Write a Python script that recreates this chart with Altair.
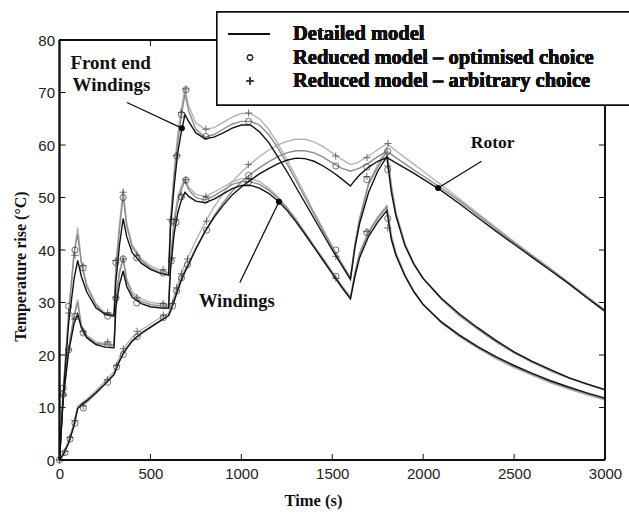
import altair as alt
import pandas as pd

# ---------------- data ----------------
T = [0, 20, 50, 80, 100, 120, 150, 200, 250, 300,
     310, 330, 350, 370, 400, 450, 500, 550, 600,
     610, 630, 650, 670, 690, 710, 750, 800, 850, 900, 950, 1000, 1050,
     1100, 1150, 1200, 1250, 1300, 1350, 1400, 1450, 1500, 1550, 1600,
     1625, 1650, 1700, 1750, 1800,
     1825, 1850, 1900, 1950, 2000,
     2100, 2200, 2300, 2400, 2500, 2600, 2700, 2800, 2900, 3000]

FEW_DET = [0, 12, 26, 34.5, 38, 35, 32, 29, 27.8, 27.5,
           34, 41, 46, 42.5, 39.5, 37.5, 36.3, 35.6, 35.2,
           44, 52, 58.5, 62.5, 65.8, 64.5, 62.3, 61.2, 61.5, 62.3, 63.2, 63.8, 63.8,
           62.5, 60.5, 57.8, 55, 52, 49, 46, 43, 40, 37.2, 34.4,
           40.5, 45, 51, 55, 57.8,
           51, 46.5, 40.8, 37.2, 34.6,
           30.8, 27.8, 25.2, 22.8, 20.6, 18.8, 17.2, 15.7, 14.5, 13.4]
FEW_OPT = [0, 13, 28, 39.5, 43, 37.5, 33, 29.5, 27.6, 27.3,
           36.5, 44, 50.3, 44.5, 40.5, 38, 36.6, 35.8, 35.3,
           45, 54, 60.5, 65.5, 69.8, 66.5, 63, 61.5, 62, 63, 64, 64.5, 64.5,
           63.8, 62, 59.5, 56.5, 53.3, 50, 46.8, 43.6, 40.4, 37.4, 34.6,
           41, 45.8, 52.5, 55.8, 58.8,
           52, 47, 41, 37.3, 34.5,
           30.6, 27.5, 24.9, 22.5, 20.4, 18.6, 17, 15.6, 14.4, 13.3]
FEW_ARB = [0, 12.5, 27.5, 39, 44.3, 37.8, 33.4, 29.8, 28, 27.8,
           37, 45, 51.5, 45, 41, 38.3, 37, 36.2, 35.7,
           45.5, 55, 62, 67, 70.8, 67.5, 64.2, 63, 63.3, 64.3, 65.3, 66, 66,
           65, 63, 60.3, 57.3, 54, 50.6, 47.2, 44, 40.8, 37.7, 34.8,
           41.2, 46, 52.8, 56.3, 59.5,
           52.5, 47.3, 41.2, 37.4, 34.6,
           30.7, 27.6, 25, 22.6, 20.5, 18.7, 17.1, 15.7, 14.5, 13.4]

W_DET = [0, 11.5, 20.5, 26, 27.8, 25.2, 23.3, 22, 21.5, 21.4,
         29, 33.5, 36, 33, 31, 29.8, 29.2, 29, 28.9,
         36, 43, 47, 49.5, 51, 50.2, 49.3, 49, 49.7, 50.7, 51.7, 52.3, 52.3,
         51.8, 50.8, 49.4, 47.6, 45.4, 43, 40.5, 38, 35.5, 33, 30.7,
         35, 38.5, 42.6, 45.3, 47.5,
         42, 39, 35, 32, 29.6,
         26.3, 23.8, 21.6, 19.7, 18, 16.5, 15.1, 13.9, 12.8, 11.8]
W_OPT = [0, 12.2, 21.5, 27.3, 30, 25.5, 23.5, 22.2, 22, 21.8,
         30.5, 35.5, 38.3, 34, 31.5, 30.2, 29.6, 29.4, 29.3,
         37.5, 45, 49, 51.5, 53.2, 51.5, 50, 49.5, 50.3, 51.4, 52.5, 53, 53,
         52.5, 51.4, 49.9, 48, 45.7, 43.2, 40.7, 38.2, 35.7, 33.2, 30.9,
         35.6, 39.2, 43.3, 46, 48.2,
         42.5, 39.3, 35.2, 32, 29.6,
         26.2, 23.6, 21.4, 19.5, 17.8, 16.3, 14.9, 13.7, 12.6, 11.6]
W_ARB = [0, 12, 21, 27.5, 30.6, 25.8, 23.8, 22.5, 22.2, 22,
         31, 36, 38.6, 34.5, 32, 30.7, 30, 29.8, 29.6,
         38, 45.8, 50, 52.2, 53.5, 52, 50.6, 50.2, 51, 52, 53, 53.6, 53.6,
         53, 51.8, 50.2, 48.2, 45.9, 43.4, 40.9, 38.4, 35.9, 33.4, 31,
         35.8, 39.5, 43.6, 46.3, 48.5,
         42.8, 39.5, 35.3, 32.1, 29.6,
         26.1, 23.5, 21.3, 19.3, 17.6, 16.1, 14.7, 13.5, 12.4, 11.4]

R_DET = [0, 1, 3.2, 6.5, 9.8, 10.5, 11.3, 12.8, 14.5, 16.3,
         17.2, 18.8, 20.2, 21.3, 22.7, 24.2, 25.3, 26.4, 27.5,
         28.3, 30.2, 32.3, 34.2, 35.8, 37.2, 40.2, 43.5, 46.2, 48.5, 50.5, 52, 53.3,
         54.5, 55.5, 56.4, 57.1, 57.5, 57.4, 56.9, 56, 54.9, 53.6, 52.2,
         53.3, 54.3, 55.8, 56.9, 57.6,
         57.1, 56.6, 55.6, 54.6, 53.5,
         51.3, 48.8, 46.2, 43.6, 41.1, 38.6, 36.1, 33.6, 30.9, 28.3]
R_OPT = [0, 1, 3.4, 6.8, 9.9, 10.3, 11, 12.6, 14.4, 16.2,
         17.3, 19, 20.2, 21.2, 22.6, 24, 25.2, 26.4, 27.5,
         28.5, 30.6, 32.7, 34.6, 36.2, 37.6, 40.3, 43.5, 46.5, 49, 51.2, 53, 54.4,
         55.7, 56.8, 57.8, 58.5, 58.9, 58.9, 58.5, 57.7, 56.6, 55.6, 55,
         55.3, 55.6, 56.6, 57.8, 58.8,
         58.2, 57.6, 56.4, 55.2, 54.1,
         51.8, 49.3, 46.7, 44, 41.4, 38.9, 36.4, 33.8, 31.2, 28.6]
R_ARB = [0, 1.2, 3.6, 7.2, 10.3, 10.8, 11.6, 13.2, 15, 16.8,
         17.8, 19.6, 21, 22, 23.4, 24.8, 25.9, 27, 28,
         29, 31.2, 33.5, 35.6, 37.3, 38.8, 41.8, 45.2, 48.2, 50.8, 53, 54.8, 56.4,
         57.8, 59, 60, 60.7, 61.1, 61.1, 60.6, 59.7, 58.5, 57.3, 56.3,
         56.5, 56.9, 57.9, 59.1, 60.2,
         59.6, 58.9, 57.6, 56.3, 55,
         52.4, 49.7, 47, 44.3, 41.6, 39, 36.4, 33.7, 31, 28.4]

# marker samples (optimised = circles, arbitrary = plus)
MK_FEW_O_T = [20, 50, 85, 130, 265, 310, 350, 425, 570, 620, 645, 670, 695, 805, 1040, 1520, 1690, 1805]
MK_FEW_O_V = [13.7, 29.3, 40, 36.6, 27.4, 37.6, 50, 38.5, 35.6, 45.5, 57.9, 65.8, 70.5, 61.6, 64.5, 40, 53.4, 55.3]
MK_FEW_P_T = [20, 50, 85, 130, 265, 310, 350, 425, 570, 610, 645, 670, 695, 805, 1040, 1520, 1690, 1805]
MK_FEW_P_V = [12.5, 28, 39, 37, 28.1, 38, 51, 39, 36.3, 45.8, 58, 66.2, 70.7, 63, 66.1, 38.8, 54, 56]
MK_W_O_T = [20, 50, 85, 130, 265, 310, 350, 425, 570, 615, 640, 670, 695, 805, 1040, 1520, 1690, 1805]
MK_W_O_V = [12.5, 21, 27.4, 24.2, 22, 30.8, 38.3, 29.9, 29.4, 37.9, 45.2, 50.1, 53.3, 49.5, 53, 35, 43.3, 46]
MK_W_P_T = [20, 50, 85, 130, 265, 310, 350, 425, 570, 620, 640, 670, 695, 805, 1040, 1520, 1690, 1805]
MK_W_P_V = [12.2, 21, 26.8, 24.5, 22.5, 31, 38.3, 30.9, 29.8, 38.5, 45.8, 50.5, 53.4, 50.2, 53.6, 34.6, 43.5, 44.2]
MK_R_O_T = [0, 30, 58, 85, 131, 265, 314, 351, 427, 571, 622, 644, 671, 704, 809, 1040, 1520, 1690, 1805]
MK_R_O_V = [0, 1.4, 4, 7, 9.9, 14.8, 17.7, 20.1, 23.5, 27.1, 29.3, 32.2, 34.7, 37.2, 43.8, 54.2, 56, 55.8, 58.8]
MK_R_P_T = [0, 30, 58, 85, 131, 263, 314, 351, 427, 571, 622, 644, 671, 704, 809, 1038, 1519, 1691, 1807]
MK_R_P_V = [0, 1.6, 4.3, 7.5, 10.3, 15.3, 18, 21.2, 24.5, 27.6, 29.8, 32.8, 35.5, 38.3, 45.5, 56.3, 57.9, 57.6, 60.3]

X_TICKS = [0, 500, 1000, 1500, 2000, 2500, 3000]
Y_TICKS = [0, 10, 20, 30, 40, 50, 60, 70, 80]

LEGEND_LABELS = ["Detailed model",
                 "Reduced model \u2013 optimised choice",
                 "Reduced model \u2013 arbitrary choice"]

# annotations (data coordinates)
ANN_TEXT = ["Front end", "Windings", "Windings", "Rotor"]
ANN_TX = [281, 286, 975, 2382]
ANN_TY = [75.6, 71.5, 30.2, 60.3]
ANN_SIZE = [19, 19, 18.5, 17.5]
ANN_L_X1 = [371, 992, 2321]
ANN_L_Y1 = [68.1, 33.8, 56.9]
ANN_L_X2 = [673, 1207, 2082]
ANN_L_Y2 = [63.2, 49.2, 51.8]

# ---------------- build tables ----------------
curves = []
for node, det, opt, arb in [("few", FEW_DET, FEW_OPT, FEW_ARB),
                            ("w", W_DET, W_OPT, W_ARB),
                            ("r", R_DET, R_OPT, R_ARB)]:
    for model, vals in [("det", det), ("opt", opt), ("arb", arb)]:
        for t, v in zip(T, vals):
            curves.append({"t": t, "v": v, "node": node, "model": model})
cdf = pd.DataFrame(curves)

marks_o, marks_p = [], []
for ts, vs in [(MK_FEW_O_T, MK_FEW_O_V), (MK_W_O_T, MK_W_O_V), (MK_R_O_T, MK_R_O_V)]:
    marks_o += [{"t": t, "v": v} for t, v in zip(ts, vs)]
for ts, vs in [(MK_FEW_P_T, MK_FEW_P_V), (MK_W_P_T, MK_W_P_V), (MK_R_P_T, MK_R_P_V)]:
    marks_p += [{"t": t, "v": v} for t, v in zip(ts, vs)]
mo = pd.DataFrame(marks_o)
mp = pd.DataFrame(marks_p)

ann_t = pd.DataFrame({"t": ANN_TX, "v": ANN_TY, "label": ANN_TEXT, "fs": ANN_SIZE})
ann_l = pd.DataFrame({"t": ANN_L_X1, "v": ANN_L_Y1, "t2": ANN_L_X2, "v2": ANN_L_Y2})
ann_d = pd.DataFrame({"t": ANN_L_X2, "v": ANN_L_Y2})

W, H = 545.5, 420
SERIF = "Liberation Serif"
SANS = "Liberation Sans"

xs = alt.Scale(domain=[0, 3000], nice=False, zero=False)
ys = alt.Scale(domain=[0, 80], nice=False)
xaxis = alt.Axis(values=X_TICKS, format="d", ticks=False, domain=False, grid=False,
                 labelFont=SANS, labelFontSize=15, labelColor="#222", labelPadding=6,
                 labelFlush=False,
                 title="Time (s)", titleFont=SERIF, titleFontSize=16.5, titleFontWeight="bold",
                 titleColor="#111", titleX=253.5, titleY=40, titleAlign="center",
                 titleBaseline="middle")
yaxis = alt.Axis(values=Y_TICKS, ticks=False, domain=False, grid=False,
                 labelFont=SANS, labelFontSize=15, labelColor="#222", labelPadding=5,
                 labelFlush=False,
                 title="Temperature rise (\u00b0C)", titleFont=SERIF, titleFontSize=16,
                 titleFontWeight="bold", titleColor="#111", titleX=-39.5, titleY=226,
                 titleAlign="center", titleBaseline="middle", titleAngle=270)

X = alt.X("t:Q", scale=xs, axis=xaxis)
Y = alt.Y("v:Q", scale=ys, axis=yaxis)

def lines(model, color, width):
    return alt.Chart(cdf[cdf.model == model]).mark_line(
        color=color, strokeWidth=width).encode(x=X, y=Y, detail="node:N")

l_arb = lines("arb", "#b4b4b4", 1.4)
l_opt = lines("opt", "#8c8c8c", 1.4)
l_det = lines("det", "#111111", 1.4)

PLUS = "M-1,0L1,0M0,-1L0,1"
p_o = alt.Chart(mo).mark_point(shape="circle", size=38, filled=False,
                               color="#333", strokeWidth=1).encode(x=X, y=Y)
p_p = alt.Chart(mp).mark_point(shape=PLUS, size=52, filled=False,
                               color="#333", strokeWidth=1).encode(x=X, y=Y)

# inward ticks on all four sides
xt = pd.DataFrame({"t": X_TICKS})
yt = pd.DataFrame({"v": Y_TICKS})
TL = 6
tick_b = alt.Chart(xt).mark_rule(color="#111", strokeWidth=1).encode(
    x=X, y=alt.value(H), y2=alt.value(H - TL))
tick_t = alt.Chart(xt).mark_rule(color="#111", strokeWidth=1).encode(
    x=X, y=alt.value(0), y2=alt.value(TL))
tick_l = alt.Chart(yt).mark_rule(color="#111", strokeWidth=1).encode(
    y=Y, x=alt.value(0), x2=alt.value(TL))
tick_r = alt.Chart(yt).mark_rule(color="#111", strokeWidth=1).encode(
    y=Y, x=alt.value(W), x2=alt.value(W - TL))

# frame
fr = dict(color="#111", strokeWidth=1.3)
frame_l = alt.Chart(xt).mark_rule(**fr).encode(x=alt.value(0), y=alt.value(0), y2=alt.value(H))
frame_b = alt.Chart(xt).mark_rule(**fr).encode(x=alt.value(0), x2=alt.value(W), y=alt.value(H))
frame_t = alt.Chart(xt).mark_rule(**fr).encode(x=alt.value(0), x2=alt.value(W), y=alt.value(0))
frame_r = alt.Chart(xt).mark_rule(**fr).encode(x=alt.value(W), y=alt.value(0), y2=alt.value(H))

# annotations
a_lines = alt.Chart(ann_l).mark_rule(color="#111", strokeWidth=1.3).encode(
    x=X, y=Y, x2="t2:Q", y2="v2:Q")
a_dots = alt.Chart(ann_d).mark_point(shape="circle", size=36, filled=True,
                                     color="#000", opacity=1).encode(x=X, y=Y)
a_text = alt.Chart(ann_t).mark_text(font=SERIF, fontWeight="bold",
                                    color="#111", align="center", baseline="middle").encode(
    x=X, y=Y, text="label:N", size=alt.Size("fs:Q", scale=None, legend=None))

# legend box (drawn over the top-right corner, like the original)
LX0, LX1, LY0, LY1 = 157.5, 585, -28, 65
leg_box = alt.Chart(xt).mark_rect(fill="white", stroke="#111", strokeWidth=1.3).encode(
    x=alt.value(LX0), x2=alt.value(LX1), y=alt.value(LY0), y2=alt.value(LY1))
ROW0, ROWD = -6, 23.5
leg_line = alt.Chart(xt).mark_rule(color="#111", strokeWidth=1.4).encode(
    x=alt.value(168.5), x2=alt.value(210.5), y=alt.value(ROW0))
leg_o = alt.Chart(xt).mark_point(shape="circle", size=30, filled=False, color="#333",
                                 strokeWidth=1).encode(x=alt.value(190.5), y=alt.value(ROW0 + ROWD))
leg_p = alt.Chart(xt).mark_point(shape=PLUS, size=52, filled=False, color="#333",
                                 strokeWidth=1).encode(x=alt.value(190.5), y=alt.value(ROW0 + 2 * ROWD))
leg_texts = []
for i, lab in enumerate(LEGEND_LABELS):
    leg_texts.append(
        alt.Chart(xt).mark_text(text=lab, font=SERIF, fontSize=20.5, fontWeight="bold",
                                color="#111", align="left", baseline="middle").encode(
            x=alt.value(233.5), y=alt.value(ROW0 + i * ROWD)))

chart = alt.layer(
    l_arb, l_opt, l_det, p_o, p_p,
    tick_b, tick_t, tick_l, tick_r,
    frame_l, frame_b, frame_t, frame_r,
    a_lines, a_dots, a_text,
    leg_box, leg_line, leg_o, leg_p, *leg_texts
).properties(
    width=W, height=H,
    autosize=alt.AutoSizeParams(type="none"),
    padding={"left": 59.5, "top": 40, "right": 23.5, "bottom": 54},
    background="white",
).configure_view(stroke=None)

chart.save("out.html", embed_options={"renderer": "svg", "actions": False})
